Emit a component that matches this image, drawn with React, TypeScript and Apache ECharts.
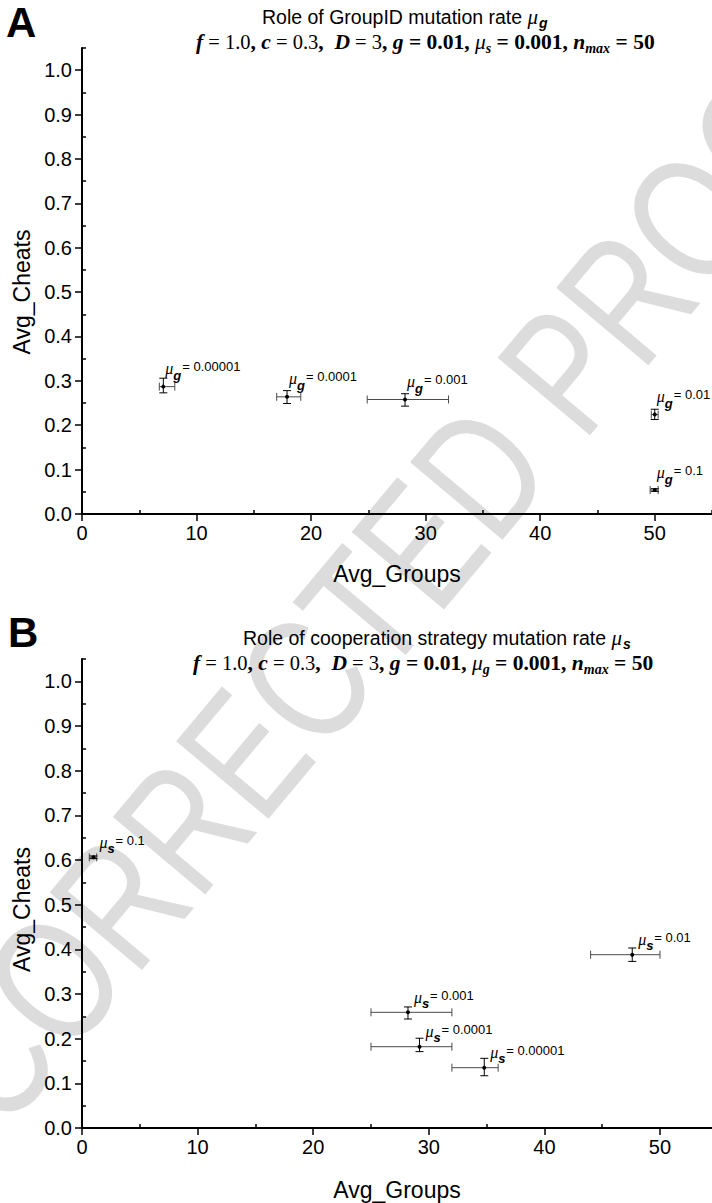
import React, { useEffect, useRef } from "react";
import * as echarts from "echarts";

const SANS = "Liberation Sans, Arial, sans-serif";
const SERIF = "Liberation Serif, Times New Roman, serif";

// Panel A: role of GroupID mutation rate
const aLabels = ["0.00001", "0.0001", "0.001", "0.01", "0.1"];
const aX = [7.1, 17.9, 28.2, 50.0, 50.0];
const aXLow = [6.75, 17.0, 24.9, 49.7, 49.6];
const aXHigh = [8.1, 19.1, 32.0, 50.3, 50.3];
const aY = [0.287, 0.264, 0.258, 0.224, 0.054];
const aYLow = [0.273, 0.249, 0.243, 0.213, 0.051];
const aYHigh = [0.306, 0.278, 0.271, 0.236, 0.057];

// Panel B: role of cooperation strategy mutation rate
const bLabels = ["0.1", "0.01", "0.001", "0.0001", "0.00001"];
const bX = [1.0, 47.6, 28.2, 29.2, 34.8];
const bXLow = [0.63, 44.0, 25.0, 25.0, 32.0];
const bXHigh = [1.27, 50.0, 32.0, 32.0, 36.0];
const bY = [0.606, 0.388, 0.259, 0.182, 0.135];
const bYLow = [0.603, 0.373, 0.244, 0.171, 0.117];
const bYHigh = [0.609, 0.403, 0.271, 0.201, 0.156];

const xMajorTicks = [0, 10, 20, 30, 40, 50];
const xMinorTicks = [5, 15, 25, 35, 45, 55];
const yMajorTicks = [0, 0.1, 0.2, 0.3, 0.4, 0.5, 0.6, 0.7, 0.8, 0.9, 1.0];
const yMinorTicks = [0.05, 0.15, 0.25, 0.35, 0.45, 0.55, 0.65, 0.75, 0.85, 0.95, 1.05];

const rows = (x: number[], y: number[], xl: number[], xh: number[], yl: number[], yh: number[]) =>
  x.map((v, i) => [v, y[i], xl[i], xh[i], yl[i], yh[i]]);

const titleRich = {
  t: { fontFamily: SANS, fontSize: 19.5, fill: "#000" },
  mu: { fontFamily: SERIF, fontStyle: "italic", fontSize: 21, fill: "#000" },
  sub: { fontFamily: SANS, fontStyle: "italic", fontWeight: "bold", fontSize: 14, fill: "#000", padding: [12, 0, 0, 1] },
};

const subRich = {
  bi: { fontFamily: SERIF, fontStyle: "italic", fontWeight: "bold", fontSize: 21.5, fill: "#000" },
  r: { fontFamily: SERIF, fontSize: 20.5, fill: "#000" },
  b: { fontFamily: SERIF, fontWeight: "bold", fontSize: 21.5, fill: "#000" },
  mu: { fontFamily: SERIF, fontStyle: "italic", fontSize: 21.5, fill: "#000" },
  sub: { fontFamily: SERIF, fontStyle: "italic", fontWeight: "bold", fontSize: 14, fill: "#000", padding: [13, 0, 0, 0] },
};

function makeRender(labels: string[], subLetter: string, off: any) {
  return (params: any, api: any) => {
    const x = api.value(0);
    const y = api.value(1);
    const p = api.coord([x, y]);
    const xl = api.coord([api.value(2), y])[0];
    const xh = api.coord([api.value(3), y])[0];
    const yl = api.coord([x, api.value(4)])[1];
    const yh = api.coord([x, api.value(5)])[1];
    const c = 4;
    const ln = (x1: number, y1: number, x2: number, y2: number, stroke: string) => ({
      type: "line",
      shape: { x1, y1, x2, y2 },
      style: { stroke, lineWidth: 1 },
    });
    return {
      type: "group",
      children: [
        ln(xl, p[1], xh, p[1], "#4a4a4a"),
        ln(xl, p[1] - c, xl, p[1] + c, "#4a4a4a"),
        ln(xh, p[1] - c, xh, p[1] + c, "#4a4a4a"),
        ln(p[0], yl, p[0], yh, "#000"),
        ln(p[0] - c, yl, p[0] + c, yl, "#000"),
        ln(p[0] - c, yh, p[0] + c, yh, "#000"),
        { type: "circle", shape: { cx: p[0], cy: p[1], r: 2 }, style: { fill: "#000" } },
        {
          type: "text",
          x: p[0] + off.mu[0],
          y: p[1] + off.mu[1],
          style: { text: "μ", fontFamily: SERIF, fontStyle: "italic", fontSize: 16, fill: "#000", verticalAlign: "middle", align: "left" },
        },
        {
          type: "text",
          x: p[0] + off.sub[0],
          y: p[1] + off.sub[1],
          style: { text: subLetter, fontFamily: SANS, fontStyle: "italic", fontWeight: "bold", fontSize: 13, fill: "#000", verticalAlign: "middle", align: "left" },
        },
        {
          type: "text",
          x: p[0] + off.eq[0],
          y: p[1] + off.eq[1],
          style: { text: "= " + labels[params.dataIndex], fontFamily: SANS, fontSize: 13, fill: "#000", verticalAlign: "middle", align: "left" },
        },
      ],
    };
  };
}

function xAxes(gridIndex: number, nameGap: number, max: number) {
  const base = {
    type: "value",
    gridIndex,
    min: 0,
    max,
    interval: 5,
    splitLine: { show: false },
  };
  return [
    {
      ...base,
      name: "Avg_Groups",
      nameLocation: "middle",
      nameGap,
      nameTextStyle: { fontFamily: SANS, fontSize: 23, color: "#000" },
      axisLine: { show: true, onZero: false, lineStyle: { color: "#000", width: 2 } },
      axisTick: { show: true, length: 7, customValues: xMajorTicks, lineStyle: { color: "#000", width: 1.5 } },
      axisLabel: { color: "#000", fontFamily: SANS, fontSize: 20, margin: 9, customValues: xMajorTicks },
    },
    {
      ...base,
      axisLine: { show: false },
      axisTick: { show: true, length: 4, customValues: xMinorTicks, lineStyle: { color: "#000", width: 1.5 } },
      axisLabel: { show: false },
    },
  ];
}

function yAxes(gridIndex: number, namePad: number) {
  const base = {
    type: "value",
    gridIndex,
    min: 0,
    max: 1.05,
    interval: 0.05,
    splitLine: { show: false },
  };
  return [
    {
      ...base,
      name: "Avg_Cheats",
      nameLocation: "middle",
      nameGap: 47,
      nameTextStyle: { fontFamily: SANS, fontSize: 23, color: "#000", padding: [0, namePad, 0, 0] },
      axisLine: { show: true, onZero: false, lineStyle: { color: "#000", width: 2 } },
      axisTick: { show: true, length: 7, customValues: yMajorTicks, lineStyle: { color: "#000", width: 1.5 } },
      axisLabel: {
        color: "#000",
        fontFamily: SANS,
        fontSize: 20,
        margin: 10,
        customValues: yMajorTicks,
        formatter: (v: number) => v.toFixed(1),
      },
    },
    {
      ...base,
      axisLine: { show: false },
      axisTick: { show: true, length: 4, customValues: yMinorTicks, lineStyle: { color: "#000", width: 1.5 } },
      axisLabel: { show: false },
    },
  ];
}

export default function App() {
  const ref = useRef<HTMLDivElement>(null);
  useEffect(() => {
    document.body.style.margin = "0";
    const chart = echarts.init(ref.current!, null, { renderer: "svg" });
    const option: any = {
      animation: false,
      backgroundColor: "#fff",
      grid: [
        { left: 82, top: 48, width: 630, height: 466 },
        { left: 82, top: 659, width: 630, height: 469 },
      ],
      xAxis: [...xAxes(0, 48, 55), ...xAxes(1, 50, 54.5)],
      yAxis: [...yAxes(0, 22), ...yAxes(1, 32)],
      graphic: [
        {
          type: "text",
          x: 339,
          y: 640,
          rotation: (50 * Math.PI) / 180,
          scaleX: 0.78,
          z: -10,
          style: {
            text: "UNCORRECTED PROOF",
            fontFamily: SANS,
            fontSize: 175,
            fill: "#dcdcdc",
            align: "center",
            verticalAlign: "middle",
          },
        },
        { type: "text", x: 6, y: 1, style: { text: "A", fontFamily: SANS, fontWeight: "bold", fontSize: 42, fill: "#000", verticalAlign: "top" } },
        { type: "text", x: 8, y: 611, style: { text: "B", fontFamily: SANS, fontWeight: "bold", fontSize: 42, fill: "#000", verticalAlign: "top" } },
        {
          type: "text",
          x: 262,
          y: 17,
          style: { text: "{t|Role of GroupID mutation rate }{mu|μ}{sub|g}", rich: titleRich, verticalAlign: "middle", align: "left" },
        },
        {
          type: "text",
          x: 196,
          y: 42,
          style: {
            text: "{bi|f}{r| = 1.0}{b|, }{bi|c}{r| = 0.3}{b|,  }{bi|D}{r| = 3}{b|, }{bi|g}{b| = 0.01, }{mu|μ}{sub|s}{b| = 0.001, }{bi|n}{sub|max}{b| = 50}",
            rich: subRich,
            verticalAlign: "middle",
            align: "left",
          },
        },
        {
          type: "text",
          x: 243,
          y: 638,
          style: { text: "{t|Role of cooperation strategy mutation rate }{mu|μ}{sub|s}", rich: titleRich, verticalAlign: "middle", align: "left" },
        },
        {
          type: "text",
          x: 193,
          y: 663,
          style: {
            text: "{bi|f}{r| = 1.0}{b|, }{bi|c}{r| = 0.3}{b|,  }{bi|D}{r| = 3}{b|, }{bi|g}{b| = 0.01, }{mu|μ}{sub|g}{b| = 0.001, }{bi|n}{sub|max}{b| = 50}",
            rich: subRich,
            verticalAlign: "middle",
            align: "left",
          },
        },
      ],
      series: [
        {
          type: "custom",
          xAxisIndex: 0,
          yAxisIndex: 0,
          encode: { x: 0, y: 1 },
          renderItem: makeRender(aLabels, "g", { mu: [2, -18], sub: [10, -11], eq: [19, -20] }),
          data: rows(aX, aY, aXLow, aXHigh, aYLow, aYHigh),
          z: 5,
        },
        {
          type: "custom",
          xAxisIndex: 2,
          yAxisIndex: 2,
          encode: { x: 0, y: 1 },
          renderItem: makeRender(bLabels, "s", { mu: [6, -15], sub: [14, -9], eq: [22, -17] }),
          data: rows(bX, bY, bXLow, bXHigh, bYLow, bYHigh),
          z: 5,
        },
      ],
    };
    chart.setOption(option);
    return () => chart.dispose();
  }, []);
  return <div ref={ref} style={{ width: 712, height: 1203 }} />;
}
